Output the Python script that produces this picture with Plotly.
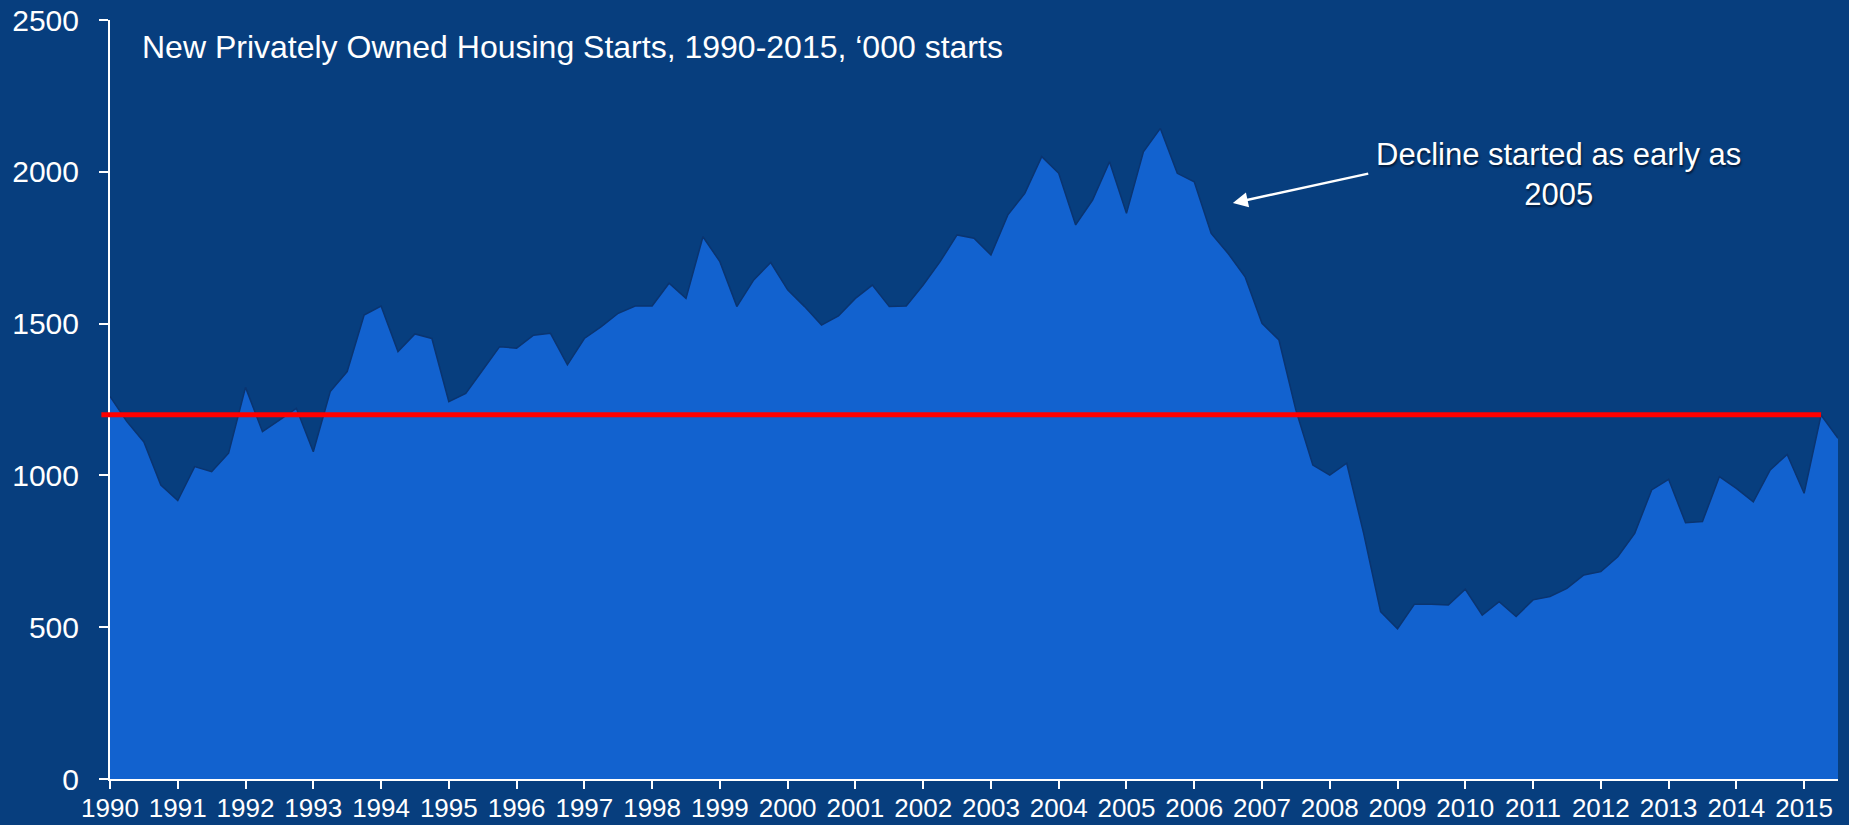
import plotly.graph_objects as go

# Quarterly new privately owned housing starts ('000), 1990 Q1 .. 2015 Q3
first_year = 1990
last_year = 2015
starts = [
    1260, 1177, 1110, 968, 917, 1029, 1012, 1073,
    1290, 1144, 1182, 1221, 1078, 1276, 1342, 1528,
    1558, 1408, 1466, 1451, 1243, 1270, 1347, 1424,
    1419, 1462, 1468, 1364, 1451, 1490, 1534, 1558,
    1558, 1633, 1583, 1786, 1704, 1556, 1644, 1701,
    1611, 1556, 1495, 1525, 1583, 1627, 1556, 1558,
    1627, 1704, 1792, 1781, 1726, 1858, 1929, 2050,
    1995, 1825, 1907, 2033, 1863, 2066, 2143, 1995,
    1967, 1797, 1731, 1654, 1501, 1446, 1215, 1034,
    1001, 1040, 809, 551, 495, 576, 576, 573,
    625, 540, 584, 535, 590, 601, 628, 672,
    683, 732, 809, 952, 987, 844, 848, 996,
    957, 913, 1018, 1069, 941, 1199, 1122,
]
quarter_x = [first_year + i / 4 for i in range(len(starts))]

year_ticks = list(range(first_year, last_year + 1))
year_labels = [str(y) for y in year_ticks]
y_ticks = [0, 500, 1000, 1500, 2000, 2500]

reference_level = 1200
reference_end = 2015.25

title_text = "New Privately Owned Housing Starts, 1990-2015, \u2018000 starts"
note_text = "Decline started as early as<br>2005"
arrow_head = (2006.57, 1897)
arrow_tail = (2008.59, 1995)
note_pos = (2011.38, 1991)

BG = "#073e7e"
FILL = "#1262cf"
FONT = "Liberation Sans, Arial, sans-serif"

x_min, x_max = 1990, 2015.5

fig = go.Figure()
fig.add_trace(go.Scatter(
    x=quarter_x, y=starts, mode="lines", fill="tozeroy",
    fillcolor=FILL, line=dict(color="#0a3470", width=1.5),
    hoverinfo="skip", showlegend=False,
))

fig.add_shape(
    type="line", xref="paper", yref="y",
    x0=-0.005, x1=(reference_end - x_min) / (x_max - x_min),
    y0=reference_level, y1=reference_level,
    line=dict(color="#ff0000", width=5), layer="above",
)

fig.add_annotation(
    xref="paper", yref="paper", x=0.0174, y=0.9644,
    xanchor="left", yanchor="middle", showarrow=False,
    text=title_text, font=dict(family=FONT, size=32, color="white"),
)
fig.add_annotation(
    x=arrow_head[0], y=arrow_head[1], ax=arrow_tail[0], ay=arrow_tail[1],
    axref="x", ayref="y", xref="x", yref="y", text="",
    showarrow=True, arrowhead=2, arrowsize=1.2, arrowwidth=2.5, arrowcolor="white",
)
fig.add_annotation(
    x=note_pos[0], y=note_pos[1], xref="x", yref="y", showarrow=False,
    text=note_text, align="center",
    font=dict(family=FONT, size=31, color="white", shadow="1px 2px 2px #021a3a"),
)

fig.update_layout(
    width=1849, height=825,
    paper_bgcolor=BG, plot_bgcolor=BG,
    margin=dict(l=110, r=11, t=20, b=46),
    showlegend=False,
    font=dict(family=FONT, color="white", size=26),
)
fig.update_xaxes(
    range=[x_min, x_max], tickvals=year_ticks, ticktext=year_labels,
    showgrid=False, zeroline=False, showline=True, linecolor="white", linewidth=2,
    ticks="outside", ticklen=8, tickwidth=2, tickcolor="white",
    ticklabelstandoff=-3, automargin=False,
    tickfont=dict(family=FONT, size=26, color="white"),
)
fig.update_yaxes(
    range=[0, 2500], tickvals=y_ticks,
    showgrid=False, zeroline=False, showline=True, linecolor="white", linewidth=2,
    ticks="outside", ticklen=9, tickwidth=2, tickcolor="white",
    ticklabelstandoff=14, automargin=False,
    tickfont=dict(family=FONT, size=30, color="white"),
)

fig.write_html(
    "out.html",
    config={"displayModeBar": False},
    post_script="document.body.style.margin='0';",
)
